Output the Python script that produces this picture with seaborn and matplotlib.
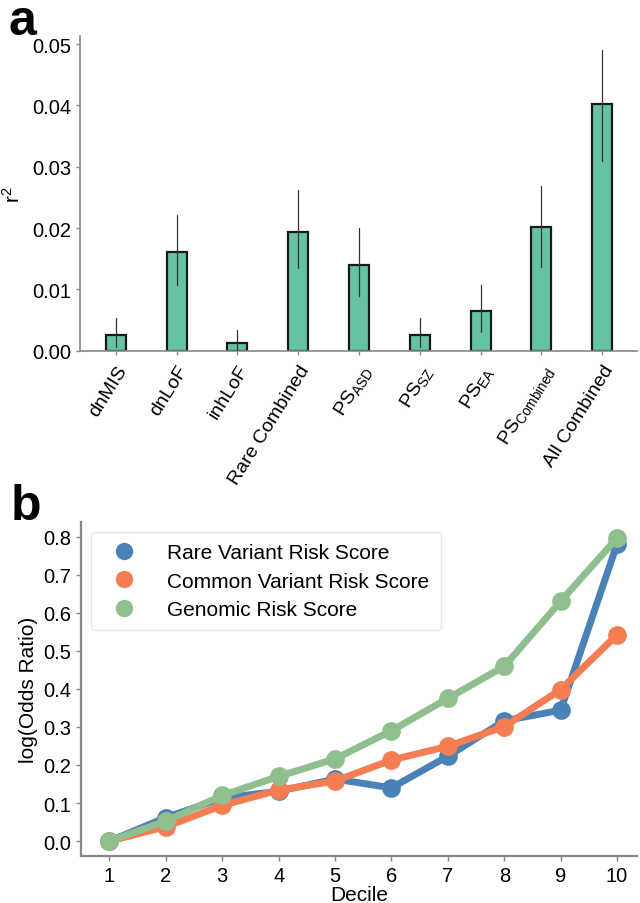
import numpy as np
import pandas as pd
import matplotlib
matplotlib.use("Agg")
import matplotlib.pyplot as plt
import seaborn as sns
from matplotlib.lines import Line2D

sns.set_theme(style="ticks")
plt.rcParams['font.family'] = ['Liberation Sans', 'DejaVu Sans']
plt.rcParams['mathtext.fontset'] = 'custom'
plt.rcParams['mathtext.rm'] = 'Liberation Sans'
plt.rcParams['mathtext.it'] = 'Liberation Sans'
plt.rcParams['mathtext.sf'] = 'Liberation Sans'
plt.rcParams['text.color'] = 'black'
plt.rcParams['axes.labelcolor'] = 'black'

# ---------------- data: panel a ----------------
categories = ["dnMIS", "dnLoF", "inhLoF", "Rare Combined", "PS_ASD", "PS_SZ",
              "PS_EA", "PS_Combined", "All Combined"]
tick_labels = ["dnMIS", "dnLoF", "inhLoF", "Rare Combined",
               r"PS$_{\mathrm{ASD}}$", r"PS$_{\mathrm{SZ}}$", r"PS$_{\mathrm{EA}}$",
               r"PS$_{\mathrm{Combined}}$", "All Combined"]
r2 = [0.0025, 0.0161, 0.0013, 0.0194, 0.0139, 0.0025, 0.0064, 0.0202, 0.0403]
err_low = [0.0006, 0.0107, 0.0000, 0.0134, 0.0089, 0.0006, 0.0031, 0.0137, 0.0309]
err_high = [0.0054, 0.0221, 0.0034, 0.0262, 0.0200, 0.0054, 0.0107, 0.0269, 0.0490]

# ---------------- data: panel b ----------------
deciles = [1, 2, 3, 4, 5, 6, 7, 8, 9, 10]
rare_score = [0.0, 0.062, 0.113, 0.131, 0.163, 0.140, 0.223, 0.316, 0.344, 0.780]
common_score = [0.0, 0.038, 0.094, 0.134, 0.158, 0.213, 0.249, 0.301, 0.398, 0.542]
genomic_score = [0.0, 0.053, 0.120, 0.170, 0.216, 0.290, 0.375, 0.459, 0.630, 0.796]
series_names = ["Rare Variant Risk Score", "Common Variant Risk Score", "Genomic Risk Score"]
series_colors = ["#4a82b8", "#f47d52", "#8fbf8f"]

TICK_FS = 14.5
LABEL_FS = 15

fig = plt.figure(figsize=(6.4, 9.04), dpi=100)

# ---------------- panel a ----------------
ax1 = fig.add_axes([0.125, 0.611, 0.87, 0.348])
df_a = pd.DataFrame({"cat": categories, "r2": r2})
sns.barplot(data=df_a, x="cat", y="r2", color="#66c2a5", saturation=1,
            width=0.33, edgecolor="#1a1a1a", linewidth=1.6, ax=ax1, errorbar=None)
for i in range(len(categories)):
    ax1.plot([i, i], [err_low[i], err_high[i]], color="#333333", lw=0.9, zorder=5)
ax1.set_ylim(0, 0.0513)
ax1.set_xlim(-0.59, 8.57)
ax1.set_yticks([0.0, 0.01, 0.02, 0.03, 0.04, 0.05])
ax1.set_yticklabels(["0.00", "0.01", "0.02", "0.03", "0.04", "0.05"])
ax1.set_xticks(range(len(categories)))
ax1.set_xticklabels(tick_labels, rotation=58, ha="right", rotation_mode="anchor")
ax1.set_xlabel("")
ax1.set_ylabel(r"r$^2$", fontsize=LABEL_FS, labelpad=6)
ax1.tick_params(axis="y", labelsize=TICK_FS)
ax1.tick_params(axis="x", labelsize=14, pad=5)
ax1.tick_params(axis="both", color="#888888", labelcolor="black", length=3, width=1)
for s in ["top", "right"]:
    ax1.spines[s].set_visible(False)
for s in ["left", "bottom"]:
    ax1.spines[s].set_color("#888888")
    ax1.spines[s].set_linewidth(1.2)
fig.text(0.014, 1 - 35 / 904, "a", fontsize=36, fontweight="bold", va="baseline",
         color="black")

# ---------------- panel b ----------------
ax2 = fig.add_axes([0.127, 0.052, 0.868, 0.369])
df_b = pd.DataFrame({
    "Decile": deciles * 3,
    "value": rare_score + common_score + genomic_score,
    "series": [series_names[0]] * 10 + [series_names[1]] * 10 + [series_names[2]] * 10,
})
sns.lineplot(data=df_b, x="Decile", y="value", hue="series", hue_order=series_names,
             palette=series_colors, marker="o", markersize=13.5, markeredgewidth=0,
             linewidth=5, ax=ax2, legend=False)
ax2.set_xlim(0.5, 10.35)
ax2.set_ylim(-0.039, 0.837)
ax2.set_xticks(deciles)
ax2.set_yticks([0.0, 0.1, 0.2, 0.3, 0.4, 0.5, 0.6, 0.7, 0.8])
ax2.set_xlabel("Decile", fontsize=LABEL_FS, labelpad=0)
ax2.set_ylabel("log(Odds Ratio)", fontsize=LABEL_FS, labelpad=4)
ax2.tick_params(axis="both", labelsize=TICK_FS, color="#888888", labelcolor="black",
                length=3.5, width=1)
for s in ["top", "right"]:
    ax2.spines[s].set_visible(False)
for s in ["left", "bottom"]:
    ax2.spines[s].set_color("#888888")
    ax2.spines[s].set_linewidth(1.6)
handles = [Line2D([], [], linestyle="", marker="o", markersize=12.5, markeredgewidth=0,
                  color=c) for c in series_colors]
ax2.legend(handles, series_names, loc="upper left", fontsize=15, frameon=True,
           bbox_to_anchor=(0.018, 0.972), borderpad=0.55, labelspacing=0.45,
           handletextpad=1.1, borderaxespad=0, edgecolor="#e8e8e8", framealpha=1,
           fancybox=True)
fig.text(0.016, 1 - 520 / 904, "b", fontsize=36, fontweight="bold", va="baseline",
         color="black")

fig.savefig("out.png", dpi=100)
